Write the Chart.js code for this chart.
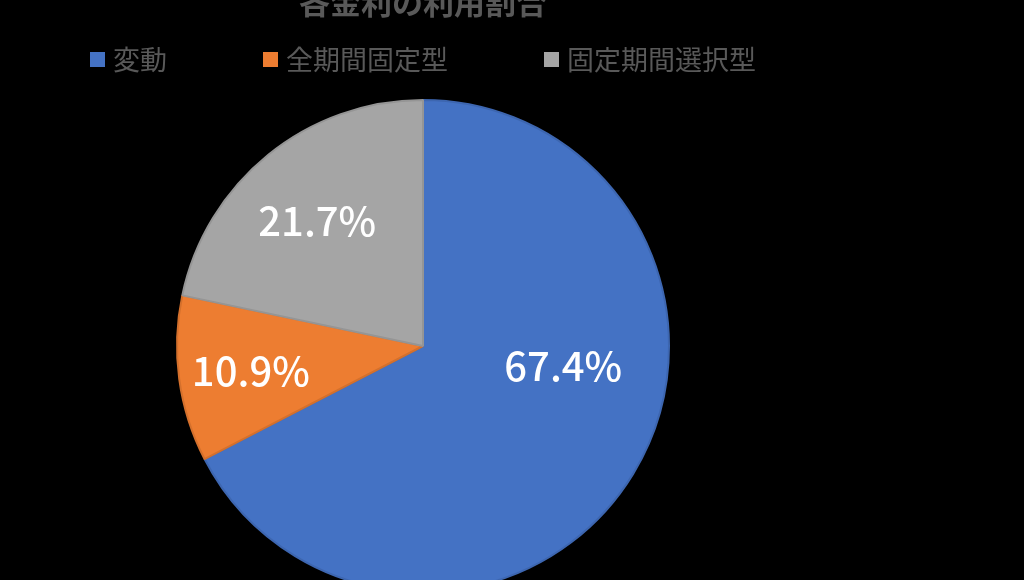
<!DOCTYPE html>
<html>
<head>
<meta charset="utf-8">
<script src="https://cdn.jsdelivr.net/npm/chart.js@4.4.1/dist/chart.umd.min.js"></script>
<style>
  html, body { margin: 0; padding: 0; background: #000; overflow: hidden; }
  #wrap { position: absolute; left: 0; top: 0; width: 1024px; height: 700px; }
</style>
</head>
<body>
<div id="wrap"><canvas id="chart" width="1024" height="700"></canvas></div>
<script>
// data
const title = "各金利の利用割合";
const categories = ["変動", "全期間固定型", "固定期間選択型"];
const shares = [67.4, 10.9, 21.7];
const colors = ["#4472C4", "#ED7D31", "#A5A5A5"];
const edgeColors = ["#3d66b0", "#d4702c", "#959595"];

const FONT = "'Noto Sans CJK JP', 'Noto Sans', sans-serif";
const TEXT_GRAY = "#595959";

// label spots, as fractions of the radius from the centre
const labelSpots = [[0.57, 0.08], [-0.70, 0.10], [-0.43, -0.51]];
// legend item left edges (Excel spacing)
const legendX = [90, 263, 544];

const overlay = {
  id: "overlay",
  afterDatasetsDraw(chart) {
    const ctx = chart.ctx;
    const arcs = chart.getDatasetMeta(0).data;
    ctx.save();
    // slice labels
    ctx.fillStyle = "#fff";
    ctx.font = "500 40px " + FONT;
    ctx.textAlign = "center";
    ctx.textBaseline = "middle";
    arcs.forEach((arc, i) => {
      const r = arc.outerRadius;
      ctx.fillText(shares[i].toFixed(1) + "%", arc.x + labelSpots[i][0] * r, arc.y + labelSpots[i][1] * r);
    });
    // title (mostly cut off at top)
    ctx.fillStyle = TEXT_GRAY;
    ctx.font = "bold 31px " + FONT;
    ctx.fillText(title, 423, 2);
    // legend
    ctx.font = "27px " + FONT;
    ctx.textAlign = "left";
    categories.forEach((c, i) => {
      ctx.fillStyle = colors[i];
      ctx.fillRect(legendX[i], 52, 15, 15);
      ctx.fillStyle = TEXT_GRAY;
      ctx.fillText(c, legendX[i] + 23, 60);
    });
    ctx.restore();
  }
};

new Chart(document.getElementById("chart"), {
  type: "pie",
  data: {
    labels: categories,
    datasets: [{
      data: shares,
      backgroundColor: colors,
      borderColor: edgeColors,
      borderWidth: 2
    }]
  },
  options: {
    responsive: false,
    animation: false,
    layout: { padding: { left: 176, right: 354, top: 99, bottom: 107 } },
    plugins: {
      legend: { display: false },
      title: { display: false },
      tooltip: { enabled: false }
    }
  },
  plugins: [overlay]
});
</script>
</body>
</html>
